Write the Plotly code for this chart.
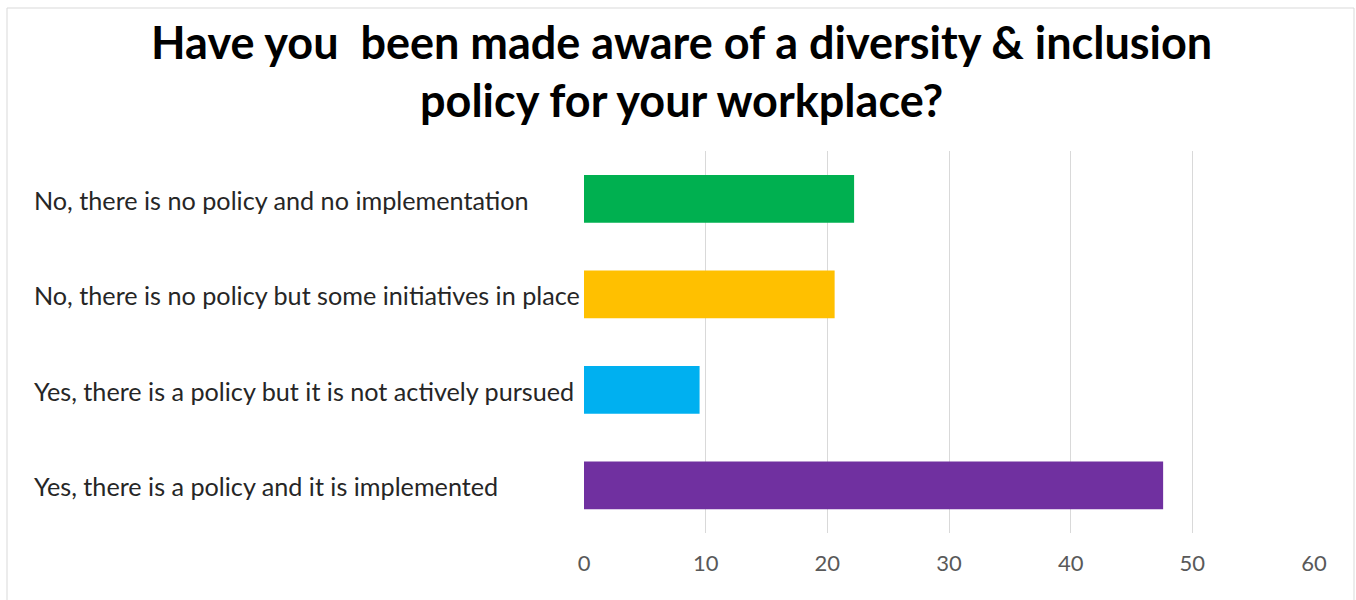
import plotly.graph_objects as go

# Survey responses (percent of respondents), listed bottom-to-top as drawn
categories = [
    "Yes, there is a policy and it is implemented",
    "Yes, there is a policy but it is not actively pursued",
    "No, there is no policy but some initiatives in place",
    "No, there is no policy and no implementation",
]
values = [47.6, 9.5, 20.6, 22.2]
colors = ["#7030A0", "#00B0F0", "#FFC000", "#00B050"]
x_ticks = [0, 10, 20, 30, 40, 50, 60]

title_lines = [
    "Have you\u00a0 been made aware of a diversity & inclusion",
    "policy for your workplace?",
]

W, H = 1356, 600
L, R, T, B = 584, 42, 151, 67
plot_w = W - L - R
plot_h = H - T - B


def px_to_paper_x(px):
    return (px - L) / plot_w


def px_to_paper_y(py):
    return (H - B - py) / plot_h


fig = go.Figure(
    go.Bar(
        x=values,
        y=categories,
        orientation="h",
        marker=dict(color=colors, line=dict(width=0)),
        hoverinfo="x+y",
    )
)

annotations = []
# Left-aligned category labels
for cat in categories:
    annotations.append(
        dict(
            x=px_to_paper_x(32), xref="paper", xanchor="left",
            y=cat, yref="y", yanchor="middle", yshift=-1,
            text=cat, showarrow=False,
            font=dict(family="Lato", size=25.2, color="#262626"),
        )
    )
# Two-line bold title
for i, line in enumerate(title_lines):
    annotations.append(
        dict(
            x=px_to_paper_x(681), xref="paper", xanchor="center",
            y=px_to_paper_y(42 + 58 * i), yref="paper", yanchor="middle",
            text="<b>" + line + "</b>", showarrow=False,
            font=dict(family="Lato", size=45, color="#000000"),
        )
    )

fig.update_layout(
    width=W, height=H,
    margin=dict(l=L, r=R, t=T, b=B, pad=0),
    paper_bgcolor="white", plot_bgcolor="white",
    bargap=0.5,
    showlegend=False,
    annotations=annotations,
    shapes=[
        # chart border (top, left, right)
        dict(type="line", xref="paper", yref="paper",
             x0=px_to_paper_x(7), x1=px_to_paper_x(1354),
             y0=px_to_paper_y(8), y1=px_to_paper_y(8),
             line=dict(color="#d9d9d9", width=1)),
        dict(type="line", xref="paper", yref="paper",
             x0=px_to_paper_x(7), x1=px_to_paper_x(7),
             y0=px_to_paper_y(8), y1=px_to_paper_y(600),
             line=dict(color="#d9d9d9", width=1)),
        dict(type="line", xref="paper", yref="paper",
             x0=px_to_paper_x(1354), x1=px_to_paper_x(1354),
             y0=px_to_paper_y(8), y1=px_to_paper_y(600),
             line=dict(color="#d9d9d9", width=1)),
    ],
    xaxis=dict(
        range=[0, 60], tickvals=x_ticks, ticktext=[str(t) for t in x_ticks],
        showgrid=True, gridcolor="#d9d9d9", gridwidth=1,
        zeroline=False, showline=False,
        ticks="outside", ticklen=11, tickcolor="rgba(0,0,0,0)",
        tickfont=dict(family="Lato", size=22, color="#595959"),
        fixedrange=True,
    ),
    yaxis=dict(
        categoryorder="array", categoryarray=categories,
        showticklabels=False, showgrid=False, zeroline=False,
        fixedrange=True,
    ),
)

fig.write_html("out.html")
